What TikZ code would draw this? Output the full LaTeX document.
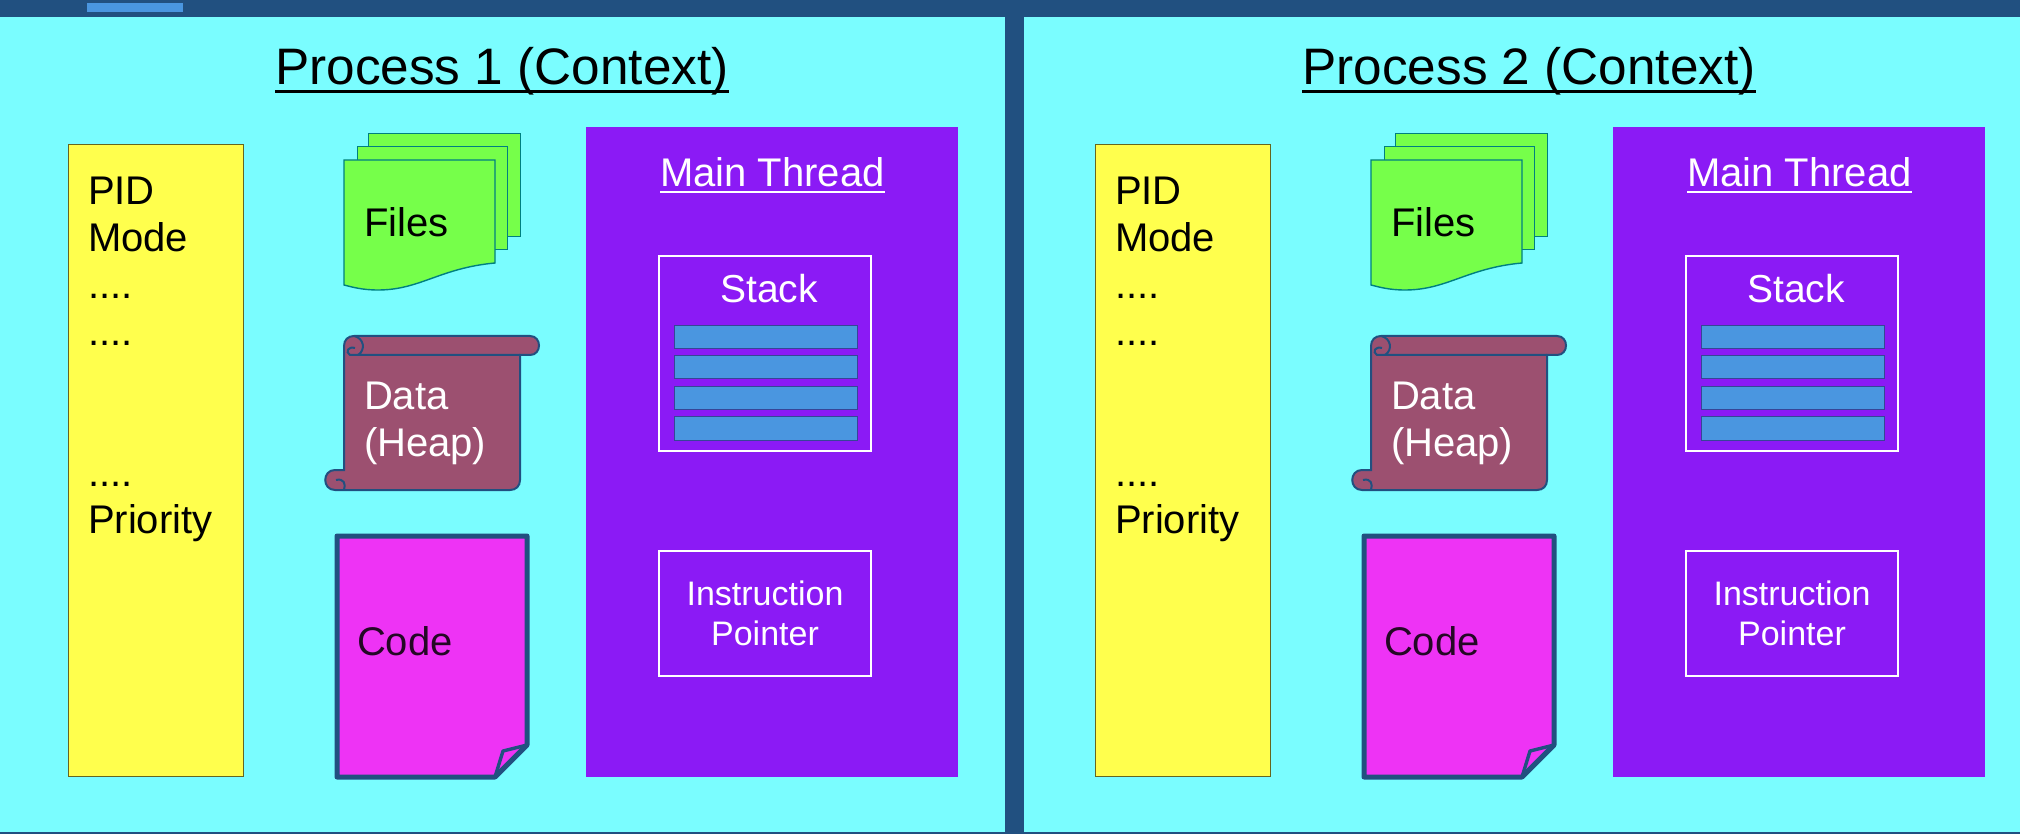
\documentclass[tikz,border=0pt]{standalone}
\usepackage{fontspec}
\setmainfont{Liberation Sans}

\definecolor{bandblue}{HTML}{215080}
\definecolor{panelcyan}{HTML}{7AFDFF}
\definecolor{listyellow}{HTML}{FFFF4D}
\definecolor{filegreen}{HTML}{76FF4A}
\definecolor{heapred}{HTML}{9C5070}
\definecolor{codepink}{HTML}{EE33F5}
\definecolor{threadviolet}{HTML}{8B1AF5}
\definecolor{slotblue}{HTML}{4A96E0}

\newcommand{\ultext}[1]{\sbox0{#1}\rlap{\rule[-0.16em]{\wd0}{0.07em}}\box0}
\newcommand{\fsz}[1]{\fontsize{#1}{1.175\dimexpr#1pt\relax}\selectfont}

\begin{document}
\begin{tikzpicture}[x=0.5pt,y=-0.5pt,
  nodes = {inner sep=0pt,outer sep=0pt},
  panelbox/.style = {anchor=north west,fill=panelcyan,minimum width=#1*0.5pt,minimum height=815*0.5pt},
  plainbox/.style = {anchor=north west,draw,line width=0.5pt},
  label/.style = {anchor=base,font=\fsz{20}},
  sheet/.style = {draw=teal,fill=filegreen,line width=0.7pt},
  scroll/.style = {draw=bandblue,fill=heapred,line width=1pt},
]

\useasboundingbox (0,0) rectangle (2020,834);
\fill[bandblue] (0,0) rectangle (2020,834);
\node[anchor=north west,fill=slotblue,minimum width=48pt,minimum height=4.5pt] (topbar) at (87,3) {};

\node[panelbox=1005] (panel1) at (0,17) {};
\node[panelbox=996] (panel2) at (1024,17) {};

\foreach \p/\dx in {1/0,2/1027} {
\begin{scope}[xshift=\dx*0.5pt]

\node[label,font=\fsz{25.65}] (title\p) at (502,85) {\ultext{Process \p{} (Context)}};

% attribute list
\node[plainbox,draw=black!60!listyellow,fill=listyellow,minimum width=87.5pt,minimum height=315.5pt] (list\p) at (68,145) {};
\node[anchor=north west,align=left,font=\fsz{20}] (listtext\p) at (88,177) {PID\\Mode\\....\\....\\ \\ \\....\\Priority};

% files
\node[plainbox,draw=teal,fill=filegreen,minimum width=76pt,minimum height=51.5pt] (fileback\p) at (368,134) {};
\node[plainbox,draw=teal,fill=filegreen,minimum width=75pt,minimum height=51.5pt] (filemid\p) at (357,147) {};
\draw[sheet] (344,160) -- (495,160) -- (495,263) .. controls (440,268) and (420,290) .. (378,290) .. controls (362,290) and (352,287) .. (344,285) -- cycle;
\node[label,anchor=base west] (files\p) at (364,237) {Files};

% heap
\draw[scroll] (344,470) -- (344,346) .. controls (344,340) and (348,336) .. (354,336) -- (530,336) .. controls (542,336) and (542,355) .. (530,355) -- (520,355) -- (520,480) .. controls (520,486) and (516,490) .. (510,490) -- (335,490) .. controls (322,490) and (322,470) .. (335,470) -- cycle;
\draw[scroll,fill=none] (520,355) -- (358,355) .. controls (366,350) and (364,338) .. (354,336);
\draw[scroll,fill=none] (358,355) -- (350,355) .. controls (345,352) and (348,346) .. (355,348);
\draw[scroll,fill=none] (344,490) .. controls (346,484) and (344,478) .. (336,480);
\node[anchor=north west,align=left,text=white,font=\fsz{20}] (heap\p) at (364,382) {Data\\(Heap)};

% code
\draw[draw=bandblue,fill=codepink,line width=2.5pt,line join=round] (337,536) -- (527,536) -- (527,745) -- (495,777) -- (337,777) -- cycle;
\draw[draw=bandblue,line width=1.7pt,line join=round] (527,745) -- (503,751) -- (495,777);
\node[label,anchor=base west,text=black!85!codepink] (code\p) at (357,655) {Code};

% main thread
\node[anchor=north west,fill=threadviolet,minimum width=186pt,minimum height=325pt] (thread\p) at (586,127) {};
\node[label,text=white] (threadtitle\p) at (772.5,187) {\ultext{Main Thread}};
\node[plainbox,draw=white,line width=1pt,minimum width=106pt,minimum height=97.5pt] (stack\p) at (658.5,256) {};
\node[label,text=white,font=\fsz{19.5}] (stacktitle\p) at (769,303) {Stack};
\foreach \n/\y in {1/326,2/356,3/387,4/417} {
  \node[plainbox,draw=bandblue!80!threadviolet,fill=slotblue,minimum width=91.5pt,minimum height=11.5pt] (slot\p\n) at (674,\y) {};
}
\node[plainbox,draw=white,line width=1pt,minimum width=106pt,minimum height=62.5pt] (pointer\p) at (658.5,551) {};
\node[anchor=north,align=center,text=white,font=\fontsize{17}{20}\selectfont] (pointertext\p) at (765,580.5) {Instruction\\Pointer};

\end{scope}
}
\end{tikzpicture}
\end{document}
